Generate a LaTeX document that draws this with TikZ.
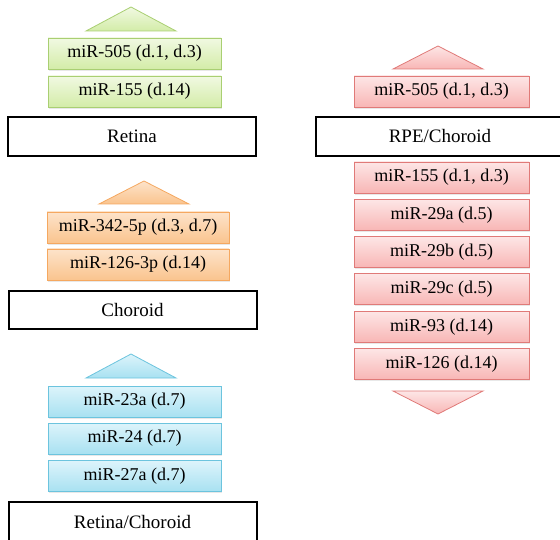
\documentclass[tikz,border=0pt]{standalone}
\usepackage{fontspec}
\setmainfont{Liberation Serif}
\usetikzlibrary{shadows}
\definecolor{mirGreenLine}{HTML}{A9CF72}
\definecolor{mirGreenTop}{HTML}{F1F9E2}
\definecolor{mirGreenBot}{HTML}{D3ECA8}
\definecolor{mirOrangeLine}{HTML}{F5A860}
\definecolor{mirOrangeTop}{HTML}{FDE3CA}
\definecolor{mirOrangeBot}{HTML}{FAC48E}
\definecolor{mirBlueLine}{HTML}{6CC4DE}
\definecolor{mirBlueTop}{HTML}{DDF4FB}
\definecolor{mirBlueBot}{HTML}{A8E1F1}
\definecolor{mirRedLine}{HTML}{E07A78}
\definecolor{mirRedTop}{HTML}{FDE6E6}
\definecolor{mirRedBot}{HTML}{F8B6B5}
\tikzset{
  mirbox/.style={line width=0.8pt, minimum width=173, minimum height=31, inner sep=0pt, font=\fontsize{18}{21}\selectfont, drop shadow={opacity=0.18, shadow xshift=1.2pt, shadow yshift=-1.6pt}},
  greenbox/.style={mirbox, draw=mirGreenLine, top color=mirGreenTop, bottom color=mirGreenBot},
  orangebox/.style={mirbox, draw=mirOrangeLine, top color=mirOrangeTop, bottom color=mirOrangeBot, minimum width=182},
  bluebox/.style={mirbox, draw=mirBlueLine, top color=mirBlueTop, bottom color=mirBlueBot},
  redbox/.style={mirbox, draw=mirRedLine, top color=mirRedTop, bottom color=mirRedBot, minimum width=175},
  tissue/.style={draw=black, fill=white, line width=2pt, minimum width=248, minimum height=39, inner sep=0pt, font=\fontsize{19}{22}\selectfont},
  greentri/.style={line width=0.8pt, draw=mirGreenLine, top color=mirGreenTop, bottom color=mirGreenBot},
  orangetri/.style={line width=0.8pt, draw=mirOrangeLine, top color=mirOrangeTop, bottom color=mirOrangeBot},
  bluetri/.style={line width=0.8pt, draw=mirBlueLine, top color=mirBlueTop, bottom color=mirBlueBot},
  redtri/.style={line width=0.8pt, draw=mirRedLine, top color=mirRedTop, bottom color=mirRedBot}
}
\begin{document}
\begin{tikzpicture}[x=1pt,y=-1pt]
  \useasboundingbox (0,0) rectangle (560,540);
  % Retina
  \path[greentri] (86,31) -- (131,7) -- (176,31) -- cycle;
  \node[greenbox] (ret1) at (134.5,53.5) {miR-505 (d.1, d.3)};
  \node[greenbox] (ret2) at (134.5,91.5) {miR-155 (d.14)};
  \node[tissue] (retina) at (132,136.5) {Retina};
  % Choroid
  \path[orangetri] (99,204) -- (144,181) -- (189,204) -- cycle;
  \node[orangebox] (cho1) at (138,227.5) {miR-342-5p (d.3, d.7)};
  \node[orangebox] (cho2) at (138,264.5) {miR-126-3p (d.14)};
  \node[tissue, minimum height=38] (choroid) at (132.5,310) {Choroid};
  % Retina/Choroid
  \path[bluetri] (86,378) -- (131,354) -- (176,378) -- cycle;
  \node[bluebox] (rc1) at (134.5,401.5) {miR-23a (d.7)};
  \node[bluebox] (rc2) at (134.5,438.5) {miR-24 (d.7)};
  \node[bluebox] (rc3) at (134.5,476) {miR-27a (d.7)};
  \node[tissue] (retcho) at (132.5,521.5) {Retina/Choroid};
  % RPE/Choroid
  \path[redtri] (393,69) -- (438,46) -- (483,69) -- cycle;
  \node[redbox] (rpe0) at (441.5,91.5) {miR-505 (d.1, d.3)};
  \node[tissue] (rpecho) at (440,136.5) {RPE/Choroid};
  \foreach \txt [count=\i] in {{miR-155 (d.1, d.3)},{miR-29a (d.5)},{miR-29b (d.5)},{miR-29c (d.5)},{miR-93 (d.14)},{miR-126 (d.14)}}{
    \node[redbox] (rpe\i) at (441.5,177.5+37.3*\i-37.3) {\txt};
  }
  \path[redtri] (393,391) -- (438,414) -- (483,391) -- cycle;
\end{tikzpicture}
\end{document}
